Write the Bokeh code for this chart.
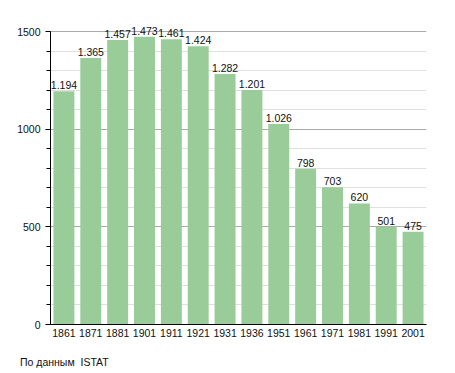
from bokeh.plotting import figure
from bokeh.models import ColumnDataSource, Range1d, FactorRange, SingleIntervalTicker, Div
from bokeh.layouts import column
from bokeh.embed import file_html
from bokeh.resources import INLINE
from bokeh.core.properties import value

years = ["1861", "1871", "1881", "1901", "1911", "1921", "1931", "1936", "1951", "1961", "1971", "1981", "1991", "2001"]
population = [1194, 1365, 1457, 1473, 1461, 1424, 1282, 1201, 1026, 798, 703, 620, 501, 475]
labels = ["1.194", "1.365", "1.457", "1.473", "1.461", "1.424", "1.282", "1.201", "1.026", "798", "703", "620", "501", "475"]
source_note = "По данным  ISTAT"

src = ColumnDataSource(dict(x=years, top=population, lab=labels))

p = figure(width=455, height=350, output_backend="svg", toolbar_location=None,
           x_range=FactorRange(*years, range_padding=0), y_range=Range1d(0, 1582),
           min_border_left=50, min_border_right=29, min_border_top=15, min_border_bottom=26)
p.outline_line_color = None
p.background_fill_color = "white"

p.vbar(x="x", top="top", width=0.78, source=src, fill_color="#99cc99", line_color=None)
p.text(x="x", y="top", text="lab", source=src, text_align="center", text_baseline="bottom",
       y_offset=-2, text_font=value("Liberation Sans"), text_font_size="10.5px", text_color="#111111")

p.yaxis.ticker = SingleIntervalTicker(interval=500, num_minor_ticks=5)
p.yaxis.bounds = (0, 1500)
p.yaxis.axis_line_color = "black"
p.yaxis.major_tick_line_color = "black"
p.yaxis.minor_tick_line_color = "black"
p.yaxis.major_tick_out = 5
p.yaxis.major_tick_in = 0
p.yaxis.minor_tick_out = 4
p.yaxis.minor_tick_in = 0
p.yaxis.major_label_text_font = "Liberation Sans"
p.yaxis.major_label_text_font_size = "10.5px"
p.yaxis.major_label_text_color = "#111111"
p.yaxis.major_label_standoff = 5

p.xaxis.axis_line_color = "black"
p.xaxis.major_tick_line_color = None
p.xaxis.minor_tick_line_color = None
p.xaxis.major_label_text_font = "Liberation Sans"
p.xaxis.major_label_text_font_size = "10.5px"
p.xaxis.major_label_text_color = "#111111"
p.xaxis.major_label_standoff = -2

p.xgrid.grid_line_color = None
p.ygrid.bounds = (0, 1500)
p.ygrid.grid_line_color = "#aaaaaa"
p.ygrid.minor_grid_line_color = "#e0e0e0"

note = Div(text=source_note, width=455, height=23,
           styles={"padding-top": "1px", "padding-left": "15px", "font-family": "Liberation Sans",
                   "font-size": "10.5px", "color": "#111111", "white-space": "pre", "line-height": "13px"})

layout = column(p, note, spacing=0)
open("out.html", "w").write(file_html(layout, INLINE))
